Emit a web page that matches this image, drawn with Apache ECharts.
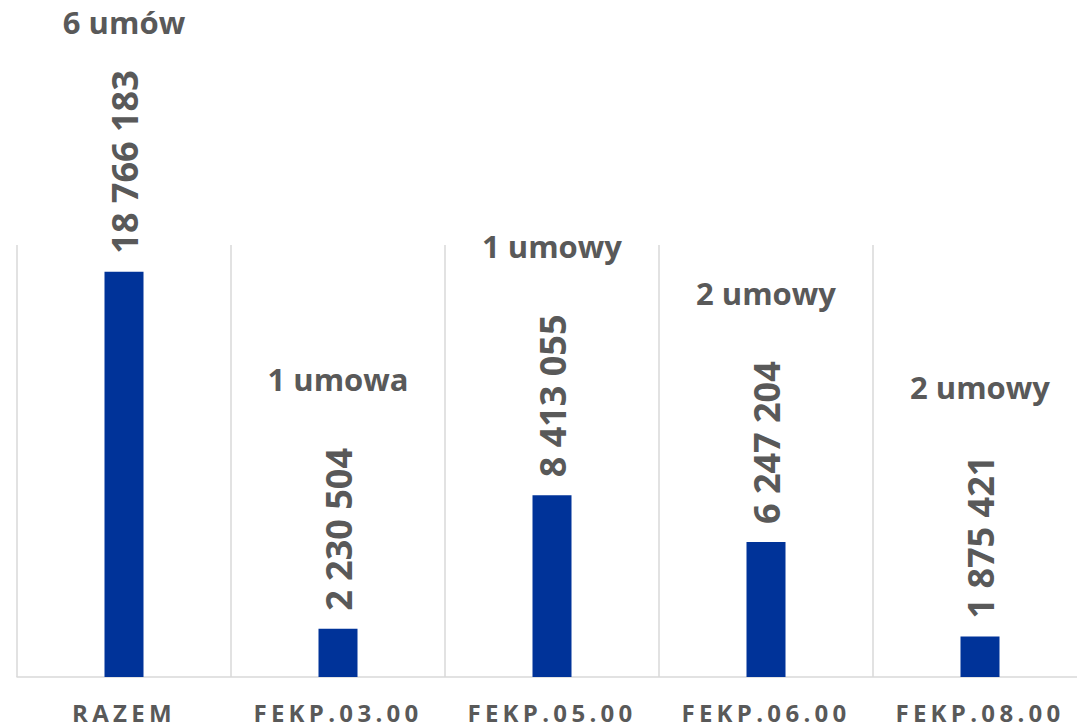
<!DOCTYPE html>
<html>
<head>
<meta charset="utf-8">
<script src="https://cdn.jsdelivr.net/npm/echarts@6/dist/echarts.min.js"></script>
<style>
  html, body { margin: 0; padding: 0; background: #fff; overflow: hidden; }
  /* wykres jest szerszy niż okno: ostatnia kategoria wychodzi poza prawą krawędź */
  #main { width: 1087px; height: 728px; }
</style>
</head>
<body>
<div id="main"></div>
<script>
// dane
const categories = ['RAZEM', 'FEKP.03.00', 'FEKP.05.00', 'FEKP.06.00', 'FEKP.08.00'];
const amounts = [18766183, 2230504, 8413055, 6247204, 1875421];
const contractLabels = ['6 umów', '1 umowa', '1 umowy', '2 umowy', '2 umowy'];

const textColor = '#595959';
const font = '"Open Sans", "Noto Sans", sans-serif';

function fmt(v) {
    return String(v).replace(/\B(?=(\d{3})+(?!\d))/g, ' ');
}

const myChart = echarts.init(document.getElementById('main'), null, { renderer: 'svg' });

// odstępy między literami w etykietach osi (tak jak w Excelu)
myChart.on('finished', function () {
    document.querySelectorAll('#main svg text').forEach(function (t) {
        if (categories.indexOf(t.textContent) >= 0) {
            t.style.letterSpacing = '4.3px';
        }
    });
});

myChart.setOption({
    animation: false,
    grid: { left: 17, top: 245, right: 0, height: 432 },
    xAxis: {
        type: 'category',
        data: categories,
        axisLine: { lineStyle: { color: '#d9d9d9', width: 1.5 } },
        axisTick: { show: false },
        splitLine: { show: true, lineStyle: { color: '#d9d9d9', width: 1.5 } },
        axisLabel: {
            color: textColor,
            fontFamily: font,
            fontWeight: 'bold',
            fontSize: 24,
            margin: 23
        }
    },
    yAxis: {
        type: 'value',
        min: 0,
        max: 20000000,
        show: false
    },
    series: [
        {
            // kwoty
            type: 'bar',
            data: amounts,
            barWidth: 39,
            itemStyle: { color: '#003399' },
            label: {
                show: true,
                position: 'top',
                rotate: 90,
                align: 'left',
                verticalAlign: 'middle',
                distance: 18,
                color: textColor,
                fontFamily: font,
                fontWeight: 'bold',
                fontSize: 36,
                formatter: function (p) { return fmt(p.value); }
            }
        },
        {
            // liczba umów
            type: 'scatter',
            data: amounts,
            symbolSize: 0,
            silent: true,
            itemStyle: { opacity: 1 },
            label: {
                show: true,
                position: 'top',
                distance: 234,
                opacity: 1,
                color: textColor,
                fontFamily: font,
                fontWeight: 'bold',
                fontSize: 31,
                formatter: function (p) { return contractLabels[p.dataIndex]; }
            }
        }
    ]
});
</script>
</body>
</html>
